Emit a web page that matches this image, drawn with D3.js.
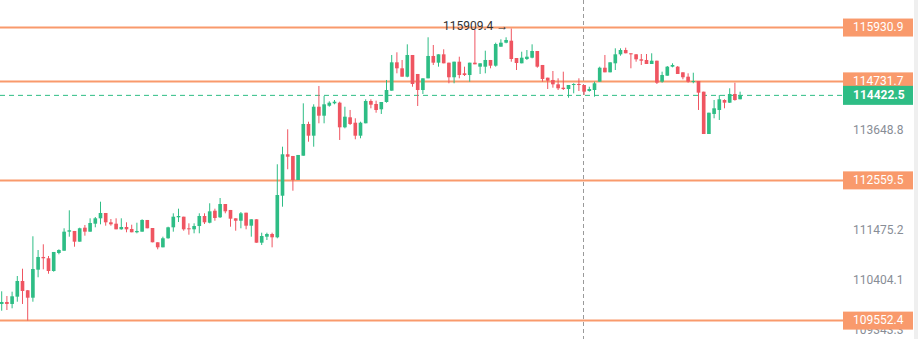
<!DOCTYPE html>
<html>
<head>
<meta charset="utf-8">
<script src="https://cdn.jsdelivr.net/npm/d3@7/dist/d3.min.js"></script>
<style>
  html, body { margin: 0; padding: 0; background: #fff; }
  svg { display: block; font-family: Roboto, "Noto Sans", sans-serif; }
</style>
</head>
<body>
<svg id="chart" width="918" height="339"></svg>
<script>
// candle data (oldest first)
var opens = [
  109905,109947,109905,110060,110394,110196,110038,110635,110907,110879,
  110607,110992,111041,111450,111465,111235,111536,111450,111622,111738,
  111853,111652,111622,111501,111551,111508,111437,111450,111702,111529,
  111222,111114,111308,111544,111760,111773,111523,111501,111572,111788,
  111643,111902,111760,112047,111918,111738,111686,111859,111579,111717,
  111213,111342,111400,111329,112227,113128,113091,112568,113097,113792,
  113535,114172,113974,114194,114247,114261,113719,113939,113820,113535,
  113807,114298,114232,114115,114276,114526,115155,115022,114836,115318,
  114896,114541,114800,115296,115147,115333,115147,114823,115169,114911,
  114873,115147,115058,115058,115207,115080,115503,115592,115637,115251,
  115133,115229,115258,115407,115096,114814,114763,114667,114592,114563,
  114652,114674,114652,114519,114541,114725,115035,114933,115133,115333,
  115429,115356,115333,115222,115207,115118,115191,114725,114858,115058,
  115058,114933,114836,114718,114740,114504,113572,114012,114100,114320,
  114261,114453,114336
];
var highs = [
  110174,110074,110166,110500,110656,110202,111351,111056,111179,110928,
  111014,111071,111523,111911,111465,111536,111594,111738,111766,112097,
  111853,111723,111738,111738,111652,111600,111643,111717,111702,111529,
  111222,111342,111557,111846,111946,111773,111630,111630,111846,111846,
  112063,111946,112177,112047,111918,111738,111874,111859,111717,111717,
  111428,111428,111428,112910,113294,113675,113091,113113,114247,113842,
  114225,114630,114409,114291,114320,114283,114172,114100,113917,113842,
  114336,114336,114305,114276,114763,115318,115378,115207,115556,115318,
  114896,114800,115713,115541,115333,115445,115147,115169,115280,115058,
  115147,115876,115133,115414,115207,115592,115668,115713,115909.4,115251,
  115391,115429,115556,115407,115096,114814,114962,114800,114947,114652,
  114690,114800,114652,114614,114725,115058,115318,115155,115467,115467,
  115481,115356,115340,115340,115340,115356,115191,114947,115073,115133,
  115073,114933,114911,114924,114740,114504,114040,114320,114431,114336,
  114579,114703,114504
];
var lows = [
  109762,109777,109813,109953,109905,109552.4,109953,110473,110643,110549,
  110592,110964,111041,111342,111127,111235,111364,111450,111544,111609,
  111579,111579,111501,111493,111437,111437,111415,111450,111523,111222,
  111071,111114,111299,111450,111658,111471,111385,111415,111415,111615,
  111630,111686,111745,111846,111557,111471,111523,111501,111342,111213,
  111164,111271,111114,111308,111989,112801,112335,112568,113097,113403,
  113294,113807,113807,114172,114225,113441,113697,113770,113456,113478,
  113807,114137,114040,114012,114261,114526,114911,114836,114823,114614,
  114188,114453,114800,115096,115058,115133,114690,114690,114800,114851,
  114725,115111,114896,114911,115022,115058,115503,115579,115169,114984,
  115133,115207,115244,115035,114725,114563,114592,114541,114541,114371,
  114468,114519,114431,114504,114393,114725,114933,114933,114984,115302,
  115356,115022,115169,115096,115118,115118,114674,114703,114858,115044,
  114896,114778,114703,114690,114100,113572,113572,113917,113880,114137,
  114254,114305,114336
];
var closes = [
  109947,109905,110068,110394,110181,110038,110650,110907,110879,110607,
  111014,111056,111450,111480,111235,111523,111450,111637,111738,111853,
  111652,111609,111501,111551,111501,111437,111465,111702,111523,111222,
  111114,111308,111544,111773,111788,111501,111501,111572,111788,111652,
  111889,111745,112047,111889,111730,111686,111846,111579,111717,111213,
  111357,111400,111329,112242,113128,113075,112568,113113,113792,113535,
  114172,113974,114225,114261,114283,113719,113952,113792,113535,113820,
  114298,114217,114100,114276,114541,115155,115022,114836,115318,114674,
  114541,114800,115296,115147,115333,115133,114823,115169,114873,114873,
  115147,115111,115133,115207,115080,115563,115592,115652,115229,115140,
  115258,115280,115407,115058,114785,114747,114667,114579,114563,114652,
  114674,114652,114504,114563,114690,115035,114933,115155,115333,115429,
  115356,115333,115222,115191,115118,115191,114703,114873,115058,115096,
  114896,114823,114725,114740,114482,113572,114040,114137,114336,114261,
  114453,114320,114422.5
];

// horizontal levels, axis labels, last price
var levels = [115930.9, 114731.7, 112559.5, 109552.4];
var tickLabels = [113648.8, 111475.2, 110404.1, 109343.3];
var lastPrice = 114422.5;
var maxHigh = 115909.4;
var crosshairIndex = 112;

var green = "#2ebd85",
    red = "#ef5561",
    orange = "#f99a6c";

var svg = d3.select("#chart"),
    width = +svg.attr("width"),
    height = +svg.attr("height"),
    plotRight = 843,
    boxW = 70;

var n = closes.length;

var x = d3.scaleBand()
    .domain(d3.range(n))
    .range([-0.9, -0.9 + n * 5.2])
    .paddingInner(0.3)
    .paddingOuter(0.15);

var y = d3.scaleLog()
    .domain([109164.1, 116549.1])
    .range([height, 0]);

var cx = function(i) { return x(i) + x.bandwidth() / 2; };

// scrollbar strip on the right
svg.append("rect")
    .attr("x", 914).attr("y", 0)
    .attr("width", 4).attr("height", height)
    .attr("fill", "#efefef");

// vertical crosshair
svg.append("line")
    .attr("x1", Math.round(cx(crosshairIndex)) - 0.5)
    .attr("x2", Math.round(cx(crosshairIndex)) - 0.5)
    .attr("y1", 0).attr("y2", height)
    .attr("stroke", "#9a9a9a")
    .attr("stroke-dasharray", "4,3");

// level lines
svg.append("g").selectAll("line")
    .data(levels)
    .join("line")
    .attr("x1", 0).attr("x2", plotRight)
    .attr("y1", d => y(d)).attr("y2", d => y(d))
    .attr("stroke", orange)
    .attr("stroke-width", 2);

// last price line
svg.append("line")
    .attr("x1", 0).attr("x2", plotRight)
    .attr("y1", y(lastPrice)).attr("y2", y(lastPrice))
    .attr("stroke", green)
    .attr("stroke-dasharray", "5,4");

// candles
var candles = svg.append("g").selectAll("g")
    .data(d3.range(n))
    .join("g")
    .attr("fill", i => closes[i] >= opens[i] ? green : red)
    .attr("stroke", i => closes[i] >= opens[i] ? green : red);

candles.append("line")
    .attr("x1", i => cx(i)).attr("x2", i => cx(i))
    .attr("y1", i => y(highs[i])).attr("y2", i => y(lows[i]))
    .attr("stroke-width", 1);

candles.append("rect")
    .attr("x", i => x(i))
    .attr("width", x.bandwidth())
    .attr("y", i => y(Math.max(opens[i], closes[i])))
    .attr("height", i => Math.max(1, Math.abs(y(opens[i]) - y(closes[i]))))
    .attr("stroke", "none");

// max high marker
var iMax = highs.indexOf(maxHigh);
svg.append("text")
    .attr("x", cx(iMax) - 3)
    .attr("y", y(maxHigh) - 2)
    .attr("text-anchor", "end")
    .attr("dominant-baseline", "middle")
    .style("font-size", "12px")
    .attr("fill", "#333")
    .text(maxHigh.toFixed(1) + " \u2192");

// right axis labels
svg.append("g").selectAll("text")
    .data(tickLabels)
    .join("text")
    .attr("x", 853)
    .attr("y", d => y(d))
    .attr("dominant-baseline", "middle")
    .style("font-size", "12px")
    .attr("fill", "#888d96")
    .text(d => d.toFixed(1));

// level boxes
var lvl = svg.append("g").selectAll("g")
    .data(levels)
    .join("g")
    .attr("transform", d => "translate(" + plotRight + "," + y(d) + ")");

lvl.append("rect")
    .attr("x", 0).attr("y", -9)
    .attr("width", boxW).attr("height", 18)
    .attr("fill", orange);

lvl.append("text")
    .attr("x", 10).attr("y", 0.5)
    .attr("dominant-baseline", "middle")
    .style("font-size", "12px")
    .attr("fill", "#fff")
    .text(d => d.toFixed(1));

// last price box
var lp = svg.append("g")
    .attr("transform", "translate(" + plotRight + "," + y(lastPrice) + ")");

lp.append("rect")
    .attr("x", 0).attr("y", -9.5)
    .attr("width", boxW).attr("height", 19)
    .attr("fill", green);

lp.append("text")
    .attr("x", 10).attr("y", 0.5)
    .attr("dominant-baseline", "middle")
    .style("font-size", "12px")
    .style("font-weight", "bold")
    .attr("fill", "#fff")
    .text(lastPrice.toFixed(1));
</script>
</body>
</html>
